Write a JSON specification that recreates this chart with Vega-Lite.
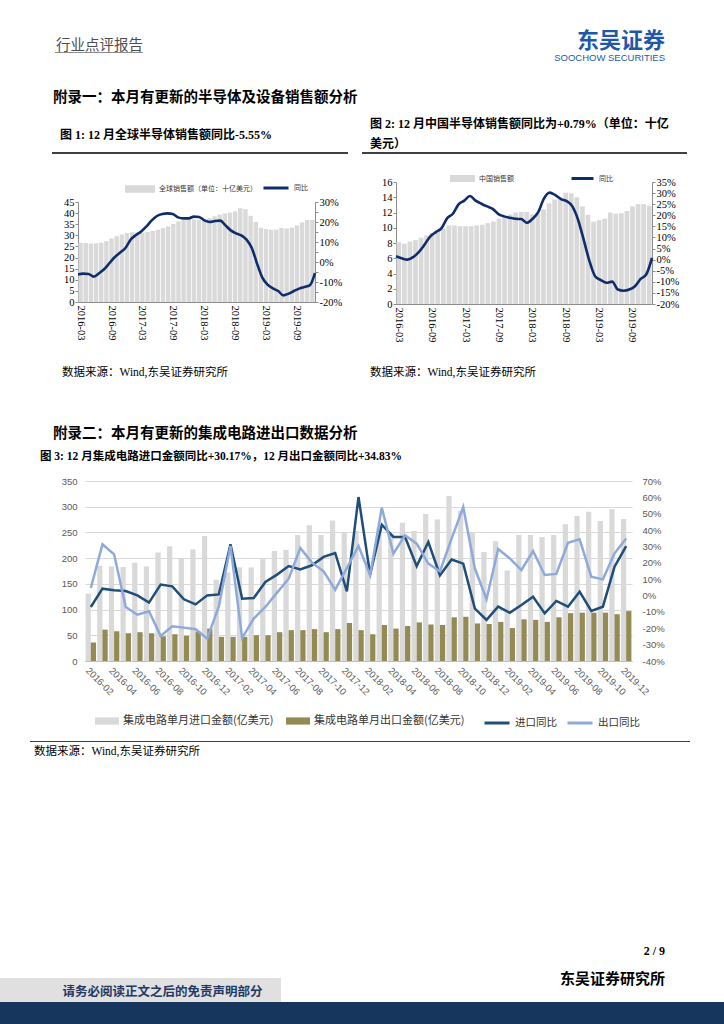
{
"$schema": "https://vega.github.io/schema/vega-lite/v6.json",
"padding": 0,
"background": "white",
"data": {"values": [{}]},
"datasets": {
"global": [
{"month":"2016-03","sales":26.6,"yoy":-6.2},{"month":"2016-04","sales":26.5,"yoy":-5.8},{"month":"2016-05","sales":26.3,"yoy":-6.0},{"month":"2016-06","sales":26.4,"yoy":-7.3},{"month":"2016-07","sales":26.7,"yoy":-5.6},{"month":"2016-08","sales":27.4,"yoy":-3.5},{"month":"2016-09","sales":28.6,"yoy":-0.5},{"month":"2016-10","sales":29.6,"yoy":2.5},{"month":"2016-11","sales":30.4,"yoy":4.7},{"month":"2016-12","sales":31.1,"yoy":7.0},
{"month":"2017-01","sales":31.4,"yoy":11.2},{"month":"2017-02","sales":31.3,"yoy":13.5},{"month":"2017-03","sales":31.2,"yoy":15.3},{"month":"2017-04","sales":31.5,"yoy":17.8},{"month":"2017-05","sales":32.0,"yoy":20.8},{"month":"2017-06","sales":32.5,"yoy":23.0},{"month":"2017-07","sales":33.2,"yoy":24.0},{"month":"2017-08","sales":34.0,"yoy":24.3},{"month":"2017-09","sales":35.1,"yoy":24.0},{"month":"2017-10","sales":36.3,"yoy":22.3},{"month":"2017-11","sales":37.0,"yoy":21.8},{"month":"2017-12","sales":37.3,"yoy":21.8},
{"month":"2018-01","sales":37.2,"yoy":22.7},{"month":"2018-02","sales":37.0,"yoy":22.5},{"month":"2018-03","sales":37.1,"yoy":20.8},{"month":"2018-04","sales":37.7,"yoy":20.0},{"month":"2018-05","sales":38.6,"yoy":20.5},{"month":"2018-06","sales":39.3,"yoy":20.7},{"month":"2018-07","sales":39.8,"yoy":18.3},{"month":"2018-08","sales":40.2,"yoy":15.8},{"month":"2018-09","sales":40.8,"yoy":14.3},{"month":"2018-10","sales":42.2,"yoy":13.3},{"month":"2018-11","sales":41.8,"yoy":11.2},{"month":"2018-12","sales":38.8,"yoy":7.0},
{"month":"2019-01","sales":36.0,"yoy":-0.8},{"month":"2019-02","sales":33.4,"yoy":-7.8},{"month":"2019-03","sales":32.8,"yoy":-11.3},{"month":"2019-04","sales":32.5,"yoy":-13.2},{"month":"2019-05","sales":32.6,"yoy":-14.5},{"month":"2019-06","sales":33.3,"yoy":-16.7},{"month":"2019-07","sales":33.1,"yoy":-15.8},{"month":"2019-08","sales":33.5,"yoy":-14.5},{"month":"2019-09","sales":34.5,"yoy":-13.3},{"month":"2019-10","sales":35.8,"yoy":-12.5},{"month":"2019-11","sales":36.9,"yoy":-11.7},{"month":"2019-12","sales":36.9,"yoy":-5.55}
],
"china": [
{"month":"2016-03","sales":8.1,"yoy":1.5},{"month":"2016-04","sales":7.9,"yoy":0.6},{"month":"2016-05","sales":8.2,"yoy":0.0},{"month":"2016-06","sales":8.4,"yoy":1.1},{"month":"2016-07","sales":8.7,"yoy":3.4},{"month":"2016-08","sales":9.0,"yoy":6.7},{"month":"2016-09","sales":9.3,"yoy":10.4},{"month":"2016-10","sales":9.6,"yoy":12.4},{"month":"2016-11","sales":9.9,"yoy":14.2},{"month":"2016-12","sales":10.3,"yoy":18.7},
{"month":"2017-01","sales":10.3,"yoy":20.7},{"month":"2017-02","sales":10.2,"yoy":24.9},{"month":"2017-03","sales":10.2,"yoy":26.6},{"month":"2017-04","sales":10.2,"yoy":28.7},{"month":"2017-05","sales":10.3,"yoy":26.6},{"month":"2017-06","sales":10.4,"yoy":25.2},{"month":"2017-07","sales":10.6,"yoy":24.0},{"month":"2017-08","sales":10.8,"yoy":22.9},{"month":"2017-09","sales":11.2,"yoy":20.5},{"month":"2017-10","sales":11.4,"yoy":19.5},{"month":"2017-11","sales":11.75,"yoy":18.9},{"month":"2017-12","sales":12.0,"yoy":18.4},
{"month":"2018-01","sales":12.06,"yoy":18.3},{"month":"2018-02","sales":12.06,"yoy":16.6},{"month":"2018-03","sales":11.75,"yoy":18.4},{"month":"2018-04","sales":11.9,"yoy":21.4},{"month":"2018-05","sales":12.4,"yoy":27.5},{"month":"2018-06","sales":13.2,"yoy":30.2},{"month":"2018-07","sales":13.7,"yoy":29.1},{"month":"2018-08","sales":14.0,"yoy":27.3},{"month":"2018-09","sales":14.6,"yoy":26.4},{"month":"2018-10","sales":14.5,"yoy":24.0},{"month":"2018-11","sales":14.0,"yoy":18.0},{"month":"2018-12","sales":12.8,"yoy":8.9},
{"month":"2019-01","sales":11.7,"yoy":-0.6},{"month":"2019-02","sales":10.8,"yoy":-7.5},{"month":"2019-03","sales":11.0,"yoy":-9.2},{"month":"2019-04","sales":11.2,"yoy":-10.4},{"month":"2019-05","sales":12.0,"yoy":-9.9},{"month":"2019-06","sales":11.85,"yoy":-13.5},{"month":"2019-07","sales":11.9,"yoy":-14.0},{"month":"2019-08","sales":12.2,"yoy":-13.5},{"month":"2019-09","sales":12.8,"yoy":-12.0},{"month":"2019-10","sales":13.1,"yoy":-8.7},{"month":"2019-11","sales":13.1,"yoy":-6.6},{"month":"2019-12","sales":12.9,"yoy":0.79}
],
"trade": [
{"month":"2016-02","imp":131,"exp":36,"impYoY":-7.0,"expYoY":4.6},{"month":"2016-03","imp":185,"exp":61,"impYoY":4.2,"expYoY":31.3},{"month":"2016-04","imp":184,"exp":58,"impYoY":3.2,"expYoY":25.2},{"month":"2016-05","imp":183,"exp":54,"impYoY":2.8,"expYoY":-7.0},{"month":"2016-06","imp":191,"exp":56,"impYoY":0.1,"expYoY":-11.7},{"month":"2016-07","imp":184,"exp":54,"impYoY":-4.3,"expYoY":-9.6},{"month":"2016-08","imp":211,"exp":48,"impYoY":6.7,"expYoY":-24.7},{"month":"2016-09","imp":223,"exp":52,"impYoY":5.6,"expYoY":-18.8},{"month":"2016-10","imp":200,"exp":49,"impYoY":-2.3,"expYoY":-19.6},{"month":"2016-11","imp":217,"exp":57,"impYoY":-5.4,"expYoY":-20.6},{"month":"2016-12","imp":243,"exp":63,"impYoY":0.1,"expYoY":-26.3},
{"month":"2017-01","imp":158,"exp":47,"impYoY":0.7,"expYoY":-6.6},{"month":"2017-02","imp":172,"exp":47,"impYoY":31.3,"expYoY":30.3},{"month":"2017-03","imp":182,"exp":47,"impYoY":-1.9,"expYoY":-26.0},{"month":"2017-04","imp":182,"exp":50,"impYoY":-1.5,"expYoY":-14.1},{"month":"2017-05","imp":198,"exp":50,"impYoY":8.3,"expYoY":-7.0},{"month":"2017-06","imp":214,"exp":56,"impYoY":12.8,"expYoY":1.8},{"month":"2017-07","imp":216,"exp":60,"impYoY":18.0,"expYoY":10.3},{"month":"2017-08","imp":245,"exp":60,"impYoY":16.0,"expYoY":29.0},{"month":"2017-09","imp":264,"exp":62,"impYoY":18.5,"expYoY":20.1},{"month":"2017-10","imp":245,"exp":56,"impYoY":23.6,"expYoY":14.8},{"month":"2017-11","imp":273,"exp":62,"impYoY":26.0,"expYoY":3.6},{"month":"2017-12","imp":250,"exp":74,"impYoY":2.6,"expYoY":16.8},
{"month":"2018-01","imp":253,"exp":60,"impYoY":60.2,"expYoY":30.3},{"month":"2018-02","imp":194,"exp":52,"impYoY":12.8,"expYoY":12.4},{"month":"2018-03","imp":260,"exp":70,"impYoY":43.3,"expYoY":53.7},{"month":"2018-04","imp":247,"exp":63,"impYoY":35.8,"expYoY":25.6},{"month":"2018-05","imp":269,"exp":68,"impYoY":35.8,"expYoY":36.8},{"month":"2018-06","imp":253,"exp":75,"impYoY":18.0,"expYoY":31.7},{"month":"2018-07","imp":286,"exp":71,"impYoY":32.7,"expYoY":19.5},{"month":"2018-08","imp":275,"exp":70,"impYoY":12.4,"expYoY":14.8},{"month":"2018-09","imp":321,"exp":85,"impYoY":22.0,"expYoY":34.8},{"month":"2018-10","imp":292,"exp":86,"impYoY":19.5,"expYoY":54.1},{"month":"2018-11","imp":251,"exp":73,"impYoY":-8.0,"expYoY":16.5},{"month":"2018-12","imp":212,"exp":72,"impYoY":-14.9,"expYoY":-2.3},
{"month":"2019-01","imp":233,"exp":76,"impYoY":-6.8,"expYoY":28.4},{"month":"2019-02","imp":176,"exp":64,"impYoY":-10.5,"expYoY":22.7},{"month":"2019-03","imp":245,"exp":81,"impYoY":-5.8,"expYoY":15.6},{"month":"2019-04","imp":245,"exp":80,"impYoY":-0.7,"expYoY":27.2},{"month":"2019-05","imp":241,"exp":76,"impYoY":-10.9,"expYoY":12.6},{"month":"2019-06","imp":245,"exp":85,"impYoY":-3.3,"expYoY":13.2},{"month":"2019-07","imp":266,"exp":93,"impYoY":-6.8,"expYoY":32.3},{"month":"2019-08","imp":282,"exp":94,"impYoY":2.4,"expYoY":34.4},{"month":"2019-09","imp":290,"exp":94,"impYoY":-9.4,"expYoY":11.5},{"month":"2019-10","imp":272,"exp":94,"impYoY":-6.8,"expYoY":9.9},{"month":"2019-11","imp":295,"exp":91,"impYoY":17.6,"expYoY":25.8},{"month":"2019-12","imp":276,"exp":97,"impYoY":30.17,"expYoY":34.83}
]
},
"config": {
"view": {"stroke": null},
"title": {"font": "Liberation Serif, Noto Sans CJK SC", "fontWeight": "bold", "fontSize": 12, "color": "#000000", "anchor": "start", "frame": "group", "baseline": "bottom", "offset": 0}
},
"spacing": 0,
"bounds": "flush",
"vconcat": [
{"width": 724, "height": 52, "mark": "text", "encoding": {"text": {"value": ""}}},
{"hconcat": [
 {"width": 55, "height": 1, "mark": "text", "encoding": {"text": {"value": ""}}},
 {"width": 88, "height": 1, "view": {"fill": "#8c8c8c"}, "mark": "text", "encoding": {"text": {"value": ""}},
  "title": {"text": "行业点评报告", "font": "Noto Sans CJK SC", "fontSize": 14.5, "fontWeight": "normal", "color": "#4d4d4d", "offset": -7, "dx": 1}},
 {"width": 379, "height": 1, "mark": "text", "encoding": {"text": {"value": ""}}},
 {"width": 202, "height": 1, "mark": "text", "encoding": {"text": {"value": ""}},
  "title": {"text": "东吴证券", "subtitle": "SOOCHOW SECURITIES", "anchor": "end", "font": "Noto Sans CJK SC", "fontSize": 22, "fontWeight": "bold", "color": "#1f58a8", "subtitleFont": "Liberation Sans", "subtitleFontSize": 9.5, "subtitleColor": "#1f58a8", "subtitlePadding": 0, "offset": -17, "dx": -59}}
], "spacing": 0, "bounds": "flush"},
{"width": 724, "height": 53, "mark": "text", "encoding": {"text": {"value": ""}}},
{"hconcat": [
 {"width": 52, "height": 1, "mark": "text", "encoding": {"text": {"value": ""}}},
 {"width": 420, "height": 1, "mark": "text", "encoding": {"text": {"value": ""}},
  "title": {"text": "附录一：本月有更新的半导体及设备销售额分析", "fontSize": 14.5, "offset": -6, "dx": 1}}
], "spacing": 0, "bounds": "flush"},
{"width": 724, "height": 47, "mark": "text", "encoding": {"text": {"value": ""}}},
{"hconcat": [
 {"width": 52, "height": 2, "mark": "text", "encoding": {"text": {"value": ""}}},
 {"width": 296, "height": 2, "view": {"fill": "#404040"}, "mark": "text", "encoding": {"text": {"value": ""}},
  "title": {"text": "图 1: 12 月全球半导体销售额同比-5.55%", "offset": 5, "dx": 8}},
 {"width": 14, "height": 2, "mark": "text", "encoding": {"text": {"value": ""}}},
 {"width": 325, "height": 2, "view": {"fill": "#404040"}, "mark": "text", "encoding": {"text": {"value": ""}},
  "title": {"text": ["图 2: 12 月中国半导体销售额同比为+0.79%（单位：十亿", "美元）"], "lineHeight": 20, "offset": -4, "dx": 8}}
], "spacing": 0, "bounds": "flush"},
{"width": 724, "height": 30, "mark": "text", "encoding": {"text": {"value": ""}}},
{"hconcat": [
 {"width": 78, "height": 122, "mark": "text", "encoding": {"text": {"value": ""}}},
 {"vconcat": [
  {"width": 237, "height": 20, "mark": "text", "encoding": {"text": {"value": ""}}},
  {"width": 237, "height": 100, "data": {"name": "global"},
   "layer": [
    {"mark": {"type": "bar", "color": "#d9d9d9"},
     "encoding": {
      "x": {"field": "month", "type": "ordinal", "scale": {"paddingInner": 0.15, "paddingOuter": 0.08},
            "axis": {"values": ["2016-03","2016-09","2017-03","2017-09","2018-03","2018-09","2019-03","2019-09"], "labelAngle": 90, "title": null, "ticks": false, "labelFont": "Liberation Serif", "labelFontSize": 10.5, "labelColor": "#000000", "domainColor": "#8c8c8c", "labelPadding": 3}},
      "y": {"field": "sales", "type": "quantitative", "scale": {"domain": [0, 45], "nice": false},
            "axis": {"values": [0,5,10,15,20,25,30,35,40,45], "title": null, "grid": false, "tickSize": 3, "tickColor": "#8c8c8c", "domainColor": "#8c8c8c", "labelFont": "Liberation Serif", "labelFontSize": 10.5, "labelColor": "#000000", "labelPadding": 1}},
      "fill": {"datum": "全球销售额（单位：十亿美元）", "scale": {"range": ["#d9d9d9"]},
               "legend": {"orient": "none", "legendX": 47, "legendY": -28, "title": null, "symbolType": "M-1,-0.25H1V0.25H-1Z", "symbolSize": 900, "symbolStrokeWidth": 0, "labelFont": "Noto Sans CJK SC", "labelFontSize": 7, "labelColor": "#333333", "labelLimit": 300}}
     }},
    {"mark": {"type": "line", "strokeWidth": 2.6, "interpolate": "monotone"},
     "encoding": {
      "x": {"field": "month", "type": "ordinal", "scale": {"type": "point", "padding": 0}, "axis": null},
      "y": {"field": "yoy", "type": "quantitative", "scale": {"domain": [-20, 30], "nice": false},
            "axis": {"orient": "right", "values": [-20,-15,-10,-5,0,5,10,15,20,25,30], "labelExpr": "datum.value + '%'", "title": null, "grid": false, "tickSize": 3, "tickColor": "#8c8c8c", "domainColor": "#8c8c8c", "labelFont": "Liberation Serif", "labelFontSize": 10.5, "labelColor": "#000000", "labelPadding": 1}},
      "stroke": {"datum": "同比", "scale": {"range": ["#102d6b"]},
               "legend": {"orient": "none", "legendX": 184, "legendY": -28, "title": null, "symbolType": "stroke", "symbolSize": 625, "symbolStrokeWidth": 3, "labelFont": "Noto Sans CJK SC", "labelFontSize": 7, "labelColor": "#333333"}}
     }}
   ],
   "resolve": {"scale": {"x": "independent", "y": "independent", "fill": "independent", "stroke": "independent"}}}
 ], "spacing": 0, "bounds": "flush"},
 {"width": 318, "height": 122, "mark": "text", "encoding": {"text": {"value": ""}}},
 {"width": 256, "height": 122, "data": {"name": "china"},
  "layer": [
   {"mark": {"type": "bar", "color": "#d9d9d9"},
    "encoding": {
     "x": {"field": "month", "type": "ordinal", "scale": {"paddingInner": 0.15, "paddingOuter": 0.08},
           "axis": {"values": ["2016-03","2016-09","2017-03","2017-09","2018-03","2018-09","2019-03","2019-09"], "labelAngle": 90, "title": null, "ticks": false, "labelFont": "Liberation Serif", "labelFontSize": 10.5, "labelColor": "#000000", "domainColor": "#8c8c8c", "labelPadding": 3}},
     "y": {"field": "sales", "type": "quantitative", "scale": {"domain": [0, 16], "nice": false},
           "axis": {"values": [0,2,4,6,8,10,12,14,16], "title": null, "grid": false, "tickSize": 3, "tickColor": "#8c8c8c", "domainColor": "#8c8c8c", "labelFont": "Liberation Serif", "labelFontSize": 10.5, "labelColor": "#000000", "labelPadding": 1}},
     "fill": {"datum": "中国销售额", "scale": {"range": ["#d9d9d9"]},
              "legend": {"orient": "none", "legendX": 54, "legendY": -16, "title": null, "symbolType": "M-1,-0.28H1V0.28H-1Z", "symbolSize": 625, "symbolStrokeWidth": 0, "labelFont": "Noto Sans CJK SC", "labelFontSize": 7, "labelColor": "#333333"}}
    }},
   {"mark": {"type": "line", "strokeWidth": 2.6, "interpolate": "monotone"},
    "encoding": {
     "x": {"field": "month", "type": "ordinal", "scale": {"type": "point", "padding": 0}, "axis": null},
     "y": {"field": "yoy", "type": "quantitative", "scale": {"domain": [-20, 35], "nice": false},
           "axis": {"orient": "right", "values": [-20,-15,-10,-5,0,5,10,15,20,25,30,35], "labelExpr": "datum.value + '%'", "title": null, "grid": false, "tickSize": 3, "tickColor": "#8c8c8c", "domainColor": "#8c8c8c", "labelFont": "Liberation Serif", "labelFontSize": 10.5, "labelColor": "#000000", "labelPadding": 1}},
     "stroke": {"datum": "同比", "scale": {"range": ["#102d6b"]},
              "legend": {"orient": "none", "legendX": 174, "legendY": -16, "title": null, "symbolType": "stroke", "symbolSize": 484, "symbolStrokeWidth": 3, "labelFont": "Noto Sans CJK SC", "labelFontSize": 7, "labelColor": "#333333"}}
    }}
  ],
  "resolve": {"scale": {"x": "independent", "y": "independent", "fill": "independent", "stroke": "independent"}}}
], "spacing": 0, "bounds": "flush"},
{"width": 724, "height": 197, "mark": "text", "encoding": {"text": {"value": ""}}},
{"hconcat": [
 {"width": 62, "height": 1, "mark": "text", "encoding": {"text": {"value": ""}}},
 {"width": 290, "height": 1, "mark": "text", "encoding": {"text": {"value": ""}},
  "title": {"text": "数据来源：Wind,东吴证券研究所", "fontWeight": "normal", "fontSize": 11.5, "offset": -5}},
 {"width": 18, "height": 1, "mark": "text", "encoding": {"text": {"value": ""}}},
 {"width": 300, "height": 1, "mark": "text", "encoding": {"text": {"value": ""}},
  "title": {"text": "数据来源：Wind,东吴证券研究所", "fontWeight": "normal", "fontSize": 11.5, "offset": -5}}
], "spacing": 0, "bounds": "flush"},
{"width": 724, "height": 61, "mark": "text", "encoding": {"text": {"value": ""}}},
{"hconcat": [
 {"width": 52, "height": 1, "mark": "text", "encoding": {"text": {"value": ""}}},
 {"width": 420, "height": 1, "mark": "text", "encoding": {"text": {"value": ""}},
  "title": {"text": "附录二：本月有更新的集成电路进出口数据分析", "fontSize": 14.5, "offset": -7, "dx": 1}}
], "spacing": 0, "bounds": "flush"},
{"width": 724, "height": 41, "mark": "text", "encoding": {"text": {"value": ""}}},
{"hconcat": [
 {"width": 85, "height": 180, "mark": "text", "encoding": {"text": {"value": ""}}},
 {"width": 547, "height": 180, "data": {"name": "trade"},
  "title": {"text": "图 3: 12 月集成电路进口金额同比+30.17%，12 月出口金额同比+34.83%", "fontSize": 11.5, "offset": 14, "dx": -45},
  "layer": [
   {"transform": [{"fold": ["imp", "exp"], "as": ["series", "value"]}],
    "mark": {"type": "bar"},
    "encoding": {
     "x": {"field": "month", "type": "ordinal", "scale": {"paddingInner": 0.1, "paddingOuter": 0.05},
           "axis": {"values": ["2016-02","2016-04","2016-06","2016-08","2016-10","2016-12","2017-02","2017-04","2017-06","2017-08","2017-10","2017-12","2018-02","2018-04","2018-06","2018-08","2018-10","2018-12","2019-02","2019-04","2019-06","2019-08","2019-10","2019-12"], "labelAngle": 45, "title": null, "ticks": false, "labelFont": "Liberation Sans", "labelFontSize": 9.5, "labelColor": "#595959", "domainColor": "#bfbfbf", "labelPadding": 4}},
     "xOffset": {"field": "series", "scale": {"domain": ["imp", "exp"]}},
     "y": {"field": "value", "type": "quantitative", "scale": {"domain": [0, 350], "nice": false},
           "axis": {"values": [0,50,100,150,200,250,300,350], "title": null, "grid": true, "gridColor": "#d9d9d9", "domain": false, "ticks": false, "labelFont": "Liberation Sans", "labelFontSize": 9.5, "labelColor": "#595959", "labelPadding": 8}},
     "fill": {"field": "series", "scale": {"domain": ["imp", "exp"], "range": ["#d9d9d9", "#948a54"]},
              "legend": {"orient": "none", "legendX": 10, "legendY": 228, "direction": "horizontal", "title": null, "symbolType": "M-1,-0.3H1V0.3H-1Z", "symbolSize": 576, "symbolStrokeWidth": 0, "columnPadding": 12, "labelFont": "Noto Sans CJK SC", "labelFontSize": 11, "labelColor": "#333333", "labelLimit": 300,
                         "labelExpr": "datum.label == 'imp' ? '集成电路单月进口金额(亿美元)' : '集成电路单月出口金额(亿美元)'"}}
    }},
   {"transform": [{"fold": ["impYoY", "expYoY"], "as": ["s2", "pct"]}],
    "mark": {"type": "line", "strokeWidth": 2.5},
    "encoding": {
     "x": {"field": "month", "type": "ordinal"},
     "y": {"field": "pct", "type": "quantitative", "scale": {"domain": [-40, 70], "nice": false},
           "axis": {"orient": "right", "values": [-40,-30,-20,-10,0,10,20,30,40,50,60,70], "labelExpr": "datum.value + '%'", "title": null, "grid": false, "domain": false, "ticks": false, "labelFont": "Liberation Sans", "labelFontSize": 9.5, "labelColor": "#595959", "labelPadding": 10}},
     "stroke": {"field": "s2", "scale": {"domain": ["impYoY", "expYoY"], "range": ["#1f4e79", "#8eaadb"]},
                "legend": {"orient": "none", "legendX": 398, "legendY": 228, "direction": "horizontal", "title": null, "symbolType": "stroke", "symbolSize": 625, "symbolStrokeWidth": 3, "columnPadding": 4, "labelFont": "Noto Sans CJK SC", "labelFontSize": 10.5, "labelColor": "#333333",
                           "labelExpr": "datum.label == 'impYoY' ? '进口同比' : '出口同比'"}}
    }}
  ],
  "resolve": {"scale": {"y": "independent", "fill": "independent", "stroke": "independent"}}}
], "spacing": 0, "bounds": "flush"},
{"width": 724, "height": 260, "mark": "text", "encoding": {"text": {"value": ""}}},
{"hconcat": [
 {"width": 30, "height": 1, "mark": "text", "encoding": {"text": {"value": ""}}},
 {"width": 660, "height": 1, "view": {"fill": "#404040"}, "mark": "text", "encoding": {"text": {"value": ""}},
  "title": {"text": "数据来源：Wind,东吴证券研究所", "orient": "bottom", "baseline": "top", "fontWeight": "normal", "fontSize": 11.5, "offset": -1, "dx": 4}}
], "spacing": 0, "bounds": "flush"},
{"width": 724, "height": 237, "mark": "text", "encoding": {"text": {"value": ""}}},
{"hconcat": [
 {"width": 281, "height": 24, "view": {"fill": "#e0e0e0"},
  "mark": {"type": "text", "font": "Noto Sans CJK SC", "fontWeight": "bold", "fontSize": 12.5, "color": "#1f3864", "dx": 22, "dy": 2},
  "encoding": {"text": {"value": "请务必阅读正文之后的免责声明部分"}}},
 {"width": 443, "height": 24, "mark": "text", "encoding": {"text": {"value": ""}},
  "title": {"text": "2 / 9", "subtitle": "东吴证券研究所", "anchor": "end", "fontSize": 12, "subtitleFont": "Noto Sans CJK SC", "subtitleFontSize": 15, "subtitleFontWeight": "bold", "subtitleColor": "#000000", "subtitlePadding": 14, "offset": -10, "dx": -59}}
], "spacing": 0, "bounds": "flush"},
{"width": 724, "height": 24, "mark": "text", "encoding": {"text": {"value": ""}}},
{"width": 724, "height": 22, "view": {"fill": "#17365d"}, "mark": "text", "encoding": {"text": {"value": ""}}}
]
}
